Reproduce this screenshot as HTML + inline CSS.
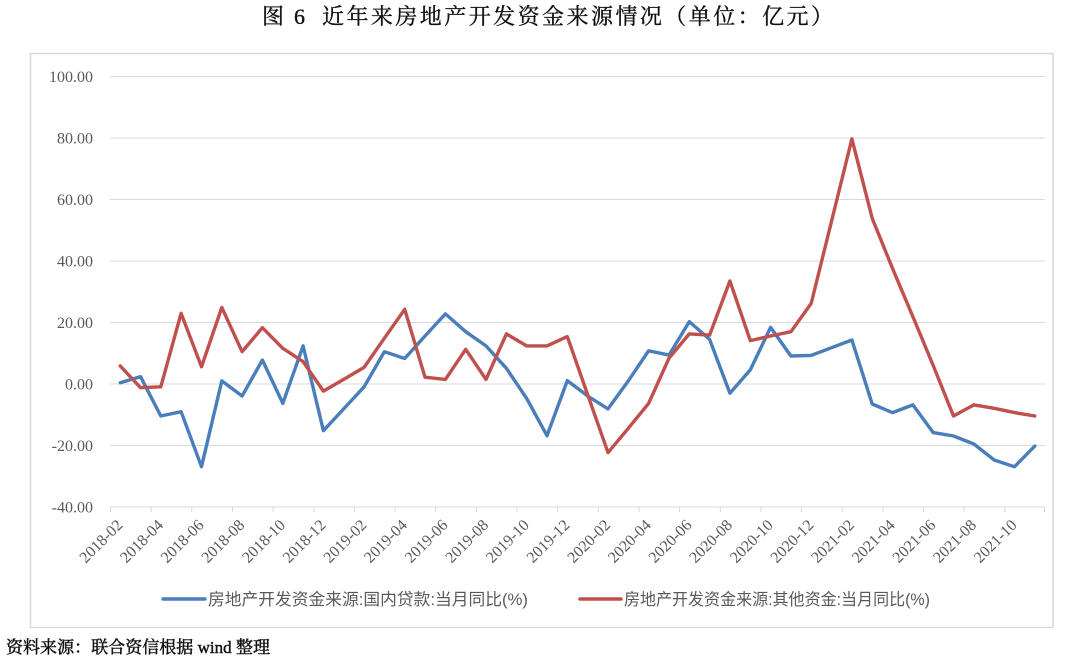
<!DOCTYPE html>
<html>
<head>
<meta charset="utf-8">
<style>
  html, body { margin: 0; padding: 0; background: #ffffff; }
  body { width: 1080px; height: 662px; overflow: hidden; }
  svg { display: block; }
</style>
</head>
<body>
<svg width="1080" height="662" viewBox="0 0 1080 662" xmlns="http://www.w3.org/2000/svg">
  <rect x="0" y="0" width="1080" height="662" fill="#ffffff"/>

  <!-- Title -->
  <text x="262" y="24" font-family="'Liberation Serif','Noto Serif CJK SC',serif" font-size="22" font-weight="normal" fill="#111" stroke="#111" stroke-width="0.35" textLength="43" lengthAdjust="spacing">图 6</text>
  <text x="322" y="24" font-family="'Liberation Serif','Noto Serif CJK SC',serif" font-size="22" font-weight="normal" fill="#111" stroke="#111" stroke-width="0.35" textLength="511" lengthAdjust="spacing">近年来房地产开发资金来源情况（单位：亿元）</text>

  <!-- Chart frame -->
  <rect x="30.5" y="53.5" width="1022.5" height="574" fill="#ffffff" stroke="#d9d9d9" stroke-width="1.5"/>

  <!-- Gridlines -->
  <g stroke="#d9d9d9" stroke-width="1">
    <line x1="110" y1="76.5" x2="1045" y2="76.5"/>
    <line x1="110" y1="138" x2="1045" y2="138"/>
    <line x1="110" y1="199.5" x2="1045" y2="199.5"/>
    <line x1="110" y1="261" x2="1045" y2="261"/>
    <line x1="110" y1="322.5" x2="1045" y2="322.5"/>
    <line x1="110" y1="384" x2="1045" y2="384"/>
    <line x1="110" y1="445.5" x2="1045" y2="445.5"/>
    <line x1="110" y1="507" x2="1045" y2="507"/>
  </g>

  <!-- X ticks -->
  <g stroke="#d9d9d9" stroke-width="1">
    <line x1="110.5" y1="507" x2="110.5" y2="512"/>
    <line x1="151.2" y1="507" x2="151.2" y2="512"/>
    <line x1="191.8" y1="507" x2="191.8" y2="512"/>
    <line x1="232.5" y1="507" x2="232.5" y2="512"/>
    <line x1="273.1" y1="507" x2="273.1" y2="512"/>
    <line x1="313.8" y1="507" x2="313.8" y2="512"/>
    <line x1="354.4" y1="507" x2="354.4" y2="512"/>
    <line x1="395.1" y1="507" x2="395.1" y2="512"/>
    <line x1="435.7" y1="507" x2="435.7" y2="512"/>
    <line x1="476.4" y1="507" x2="476.4" y2="512"/>
    <line x1="517.0" y1="507" x2="517.0" y2="512"/>
    <line x1="557.7" y1="507" x2="557.7" y2="512"/>
    <line x1="598.3" y1="507" x2="598.3" y2="512"/>
    <line x1="639.0" y1="507" x2="639.0" y2="512"/>
    <line x1="679.6" y1="507" x2="679.6" y2="512"/>
    <line x1="720.3" y1="507" x2="720.3" y2="512"/>
    <line x1="760.9" y1="507" x2="760.9" y2="512"/>
    <line x1="801.6" y1="507" x2="801.6" y2="512"/>
    <line x1="842.2" y1="507" x2="842.2" y2="512"/>
    <line x1="882.9" y1="507" x2="882.9" y2="512"/>
    <line x1="923.5" y1="507" x2="923.5" y2="512"/>
    <line x1="964.2" y1="507" x2="964.2" y2="512"/>
    <line x1="1004.8" y1="507" x2="1004.8" y2="512"/>
    <line x1="1044.5" y1="507" x2="1044.5" y2="512"/>
  </g>

  <!-- Y labels -->
  <g font-family="'Liberation Serif',serif" font-size="16" fill="#595959" text-anchor="end">
    <text x="93" y="82">100.00</text>
    <text x="93" y="143.5">80.00</text>
    <text x="93" y="205">60.00</text>
    <text x="93" y="266.5">40.00</text>
    <text x="93" y="328">20.00</text>
    <text x="93" y="389.5">0.00</text>
    <text x="93" y="451">-20.00</text>
    <text x="93" y="512.5">-40.00</text>
  </g>

  <!-- X labels -->
  <g font-family="'Liberation Serif',serif" font-size="16" fill="#595959" text-anchor="end">
    <text transform="translate(123.5,526) rotate(-45)">2018-02</text>
    <text transform="translate(164.1,526) rotate(-45)">2018-04</text>
    <text transform="translate(204.8,526) rotate(-45)">2018-06</text>
    <text transform="translate(245.4,526) rotate(-45)">2018-08</text>
    <text transform="translate(286.1,526) rotate(-45)">2018-10</text>
    <text transform="translate(326.7,526) rotate(-45)">2018-12</text>
    <text transform="translate(367.4,526) rotate(-45)">2019-02</text>
    <text transform="translate(408.0,526) rotate(-45)">2019-04</text>
    <text transform="translate(448.7,526) rotate(-45)">2019-06</text>
    <text transform="translate(489.3,526) rotate(-45)">2019-08</text>
    <text transform="translate(530.0,526) rotate(-45)">2019-10</text>
    <text transform="translate(570.6,526) rotate(-45)">2019-12</text>
    <text transform="translate(611.3,526) rotate(-45)">2020-02</text>
    <text transform="translate(651.9,526) rotate(-45)">2020-04</text>
    <text transform="translate(692.6,526) rotate(-45)">2020-06</text>
    <text transform="translate(733.2,526) rotate(-45)">2020-08</text>
    <text transform="translate(773.9,526) rotate(-45)">2020-10</text>
    <text transform="translate(814.5,526) rotate(-45)">2020-12</text>
    <text transform="translate(855.2,526) rotate(-45)">2021-02</text>
    <text transform="translate(895.8,526) rotate(-45)">2021-04</text>
    <text transform="translate(936.5,526) rotate(-45)">2021-06</text>
    <text transform="translate(977.1,526) rotate(-45)">2021-08</text>
    <text transform="translate(1017.8,526) rotate(-45)">2021-10</text>
  </g>

  <!-- Blue series: 国内贷款 -->
  <polyline fill="none" stroke="#4a7ebb" stroke-width="3.4" stroke-linejoin="round" stroke-linecap="round"
    points="120.2,382.8 140.5,376.6 160.8,416.0 181.1,411.7 201.5,466.7 221.8,380.9 242.1,396.0 262.4,360.0 282.8,403.4 303.1,345.9 323.4,430.7 343.7,408.9 364.1,386.8 384.4,351.7 404.7,358.5 425.0,336.0 445.4,313.9 465.7,331.7 486.0,345.9 506.4,368.3 526.7,398.5 547.0,435.7 567.3,380.6 587.7,396.0 608.0,408.9 628.3,380.9 648.6,350.8 669.0,355.1 689.3,321.6 709.6,339.4 729.9,393.2 750.3,369.9 770.6,327.4 790.9,356.0 811.2,355.4 831.6,347.7 851.9,340.0 872.2,404.0 892.5,412.6 912.9,404.9 933.2,432.6 953.5,436.0 973.9,444.0 994.2,460.0 1014.5,466.7 1034.8,446.1"/>

  <!-- Red series: 其他资金 -->
  <polyline fill="none" stroke="#c0504d" stroke-width="3.4" stroke-linejoin="round" stroke-linecap="round"
    points="120.2,365.9 140.5,387.7 160.8,386.8 181.1,313.3 201.5,366.8 221.8,307.4 242.1,351.7 262.4,327.7 282.8,348.3 303.1,361.6 323.4,391.1 343.7,379.4 364.1,367.4 384.4,338.2 404.7,309.3 425.0,377.2 445.4,379.4 465.7,349.3 486.0,379.4 506.4,333.9 526.7,345.9 547.0,345.9 567.3,336.6 587.7,394.8 608.0,452.6 628.3,428.3 648.6,403.4 669.0,358.2 689.3,333.9 709.6,335.1 729.9,281.0 750.3,340.6 770.6,336.0 790.9,331.7 811.2,303.4 831.6,221.0 851.9,138.9 872.2,218.3 892.5,268.4 912.9,316.7 933.2,365.5 953.5,416.0 973.9,404.9 994.2,408.3 1014.5,412.6 1034.8,416.0"/>

  <!-- Legend -->
  <line x1="163" y1="599" x2="205" y2="599" stroke="#4a7ebb" stroke-width="3.5" stroke-linecap="round"/>
  <text x="208" y="605" font-family="'Liberation Sans','Noto Sans CJK SC',sans-serif" font-size="16.5" fill="#595959" textLength="320" lengthAdjust="spacingAndGlyphs">房地产开发资金来源:国内贷款:当月同比(%)</text>
  <line x1="580" y1="599" x2="621" y2="599" stroke="#c0504d" stroke-width="3.5" stroke-linecap="round"/>
  <text x="624" y="605" font-family="'Liberation Sans','Noto Sans CJK SC',sans-serif" font-size="16.5" fill="#595959" textLength="306" lengthAdjust="spacingAndGlyphs">房地产开发资金来源:其他资金:当月同比(%)</text>

  <!-- Source -->
  <text x="6" y="653" font-family="'Liberation Serif','Noto Serif CJK SC',serif" font-size="17" font-weight="normal" fill="#111" stroke="#111" stroke-width="0.45" textLength="264" lengthAdjust="spacing">资料来源：联合资信根据 wind 整理</text>
</svg>
</body>
</html>
